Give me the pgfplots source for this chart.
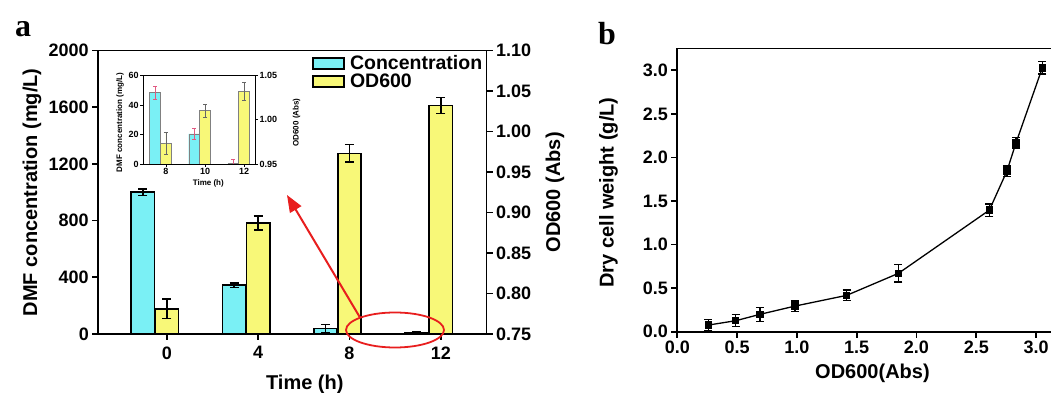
\documentclass[border=0pt]{standalone}
\usepackage{pgfplots}
\pgfplotsset{compat=1.18}
\usepackage{fontspec}
\setmainfont{Liberation Sans}
\newfontfamily\panelfont{Liberation Serif}
\usetikzlibrary{arrows.meta}
\definecolor{cy}{RGB}{122,240,245}
\definecolor{ye}{RGB}{248,248,120}
\definecolor{rd}{RGB}{232,30,30}
\definecolor{pk}{RGB}{225,90,130}

\pgfplotsset{
  base/.style={
    scale only axis, separate axis lines,
    /pgf/number format/assume math mode=true,
    tick align=outside, major tick length=6pt,
    axis line style={line width=1.8pt},
    tick style={line width=1.8pt, black},
    tick label style={font=\fontsize{18}{18}\selectfont\bfseries},
    label style={font=\fontsize{20}{20}\selectfont\bfseries},
    /pgf/number format/1000 sep={},
  },
  insetbase/.style={
    scale only axis, separate axis lines,
    /pgf/number format/assume math mode=true,
    tick align=outside, major tick length=3pt,
    axis line style={line width=0.8pt},
    tick style={line width=0.8pt, black},
    tick label style={font=\fontsize{9}{9}\selectfont\bfseries, inner sep=1.5pt},
    label style={font=\fontsize{8}{8}\selectfont\bfseries},
    /pgf/number format/1000 sep={},
  },
  bigerr/.style={error bars/.cd, y dir=both, y explicit,
    error bar style={draw=black, line width=1.4pt},
    error mark options={rotate=90, mark size=4.5pt, line width=1.4pt, draw=black}},
  smallerr/.style={error bars/.cd, y dir=both, y explicit,
    error bar style={draw=#1, line width=0.6pt},
    error mark options={rotate=90, mark size=2pt, line width=0.6pt, draw=#1}},
}

\begin{document}
\begin{tikzpicture}
\path[use as bounding box] (0pt,0pt) rectangle (1051pt,393pt);
\clip (0pt,0pt) rectangle (1051pt,393pt);

% ---------- panel a : concentration (left axis)
\begin{axis}[base,
  at={(98.3pt,59pt)}, anchor=south west,
  width=388.2pt, height=283.5pt,
  xmin=-3, xmax=14, ymin=0, ymax=2000,
  xtick={0,4,8,12}, ytick={0,400,800,1200,1600,2000},
  xtick pos=left, ytick pos=left,
  xticklabel style={yshift=-3pt},
  scaled y ticks=false,
  xlabel={Time (h)}, ylabel={DMF concentration (mg/L)},
  xlabel style={at={(axis description cs:0.532,-0.176)}, anchor=center},
  ylabel style={at={(axis description cs:-0.171,0.5)}, anchor=center},
]
\addplot[ybar, bar width=23.5pt, bar shift=-24pt, fill=cy, draw=black, line width=1.6pt]
  coordinates {(0,1000) (4,345) (8,40) (12,8)};
\addplot[draw=none, mark=none, forget plot, xshift=-24pt, bigerr]
  coordinates {(0,1000) +- (0,22) (4,345) +- (0,16) (8,40) +- (0,28) (12,8) +- (0,5)};
\end{axis}

% ---------- panel a : OD600 (right axis)
\begin{axis}[base,
  at={(98.3pt,59pt)}, anchor=south west,
  width=388.2pt, height=283.5pt,
  xmin=-3, xmax=14, ymin=0.75, ymax=1.10,
  axis x line=none, axis y line*=right,
  ytick={0.75,0.80,0.85,0.90,0.95,1.00,1.05,1.10},
  yticklabel style={/pgf/number format/.cd, fixed, fixed zerofill, precision=2},
  ylabel={OD600 (Abs)},
  ylabel style={at={(axis description cs:1.1765,0.5)}, anchor=center, rotate=0},
  legend style={at={(axis description cs:0.5505,0.984)}, anchor=north west,
    draw=none, fill=none, inner sep=0pt, column sep=5pt, row sep=1.5pt,
    font=\fontsize{19.5}{19.5}\selectfont\bfseries,
    nodes={inner sep=0.5pt}},
  legend cell align=left,
]
\addlegendimage{legend image code/.code={\draw[fill=cy,draw=black,line width=1.3pt] (0pt,-5.5pt) rectangle (31pt,5.5pt);}}
\addlegendentry{Concentration}
\addplot[ybar, bar width=23.5pt, bar shift=0pt, fill=ye, draw=black, line width=1.6pt,
  legend image code/.code={\draw[fill=ye,draw=black,line width=1.3pt] (0pt,-5.5pt) rectangle (31pt,5.5pt);},
  bigerr]
  coordinates {(0,0.781) +- (0,0.0120) (4,0.887) +- (0,0.0085) (8,0.973) +- (0,0.0107) (12,1.032) +- (0,0.0100)};
\addlegendentry{OD600}
\end{axis}

% ---------- inset : left axis
\begin{axis}[insetbase,
  at={(143.3pt,229pt)}, anchor=south west,
  width=111.7pt, height=88.3pt,
  xmin=6.84, xmax=12.56, ymin=0, ymax=60,
  xtick={8,10,12}, ytick={0,20,40,60},
  xtick pos=left, ytick pos=left,
  xlabel={Time (h)}, ylabel={DMF concentration (mg/L)},
  xlabel style={at={(axis description cs:0.582,-0.219)}, anchor=center},
  ylabel style={at={(axis description cs:-0.209,0.47)}, anchor=center},
]
\addplot[ybar, bar width=11pt, bar shift=-10.8pt, fill=cy, draw=gray, line width=0.4pt]
  coordinates {(8,48.5) (10,20.4) (12,0.5)};
\addplot[draw=none, mark=none, forget plot, xshift=-10.8pt, smallerr=pk]
  coordinates {(8,48.5) +- (0,4.3) (10,20.4) +- (0,3.6) (12,0.5) +- (0,2.5)};
\end{axis}

% ---------- inset : right axis
\begin{axis}[insetbase,
  at={(143.3pt,229pt)}, anchor=south west,
  width=111.7pt, height=88.3pt,
  xmin=6.84, xmax=12.56, ymin=0.95, ymax=1.05,
  axis x line=none, axis y line*=right,
  ytick={0.95,1.00,1.05},
  yticklabel style={/pgf/number format/.cd, fixed, fixed zerofill, precision=2},
  ylabel={OD600 (Abs)},
  ylabel style={at={(axis description cs:1.373,0.47)}, anchor=center, rotate=0},
]
\addplot[ybar, bar width=11pt, bar shift=0pt, fill=ye, draw=gray, line width=0.4pt,
  smallerr=gray!80!black]
  coordinates {(8,0.9734) +- (0,0.0125) (10,1.0104) +- (0,0.0075) (12,1.0319) +- (0,0.0102)};
\end{axis}

% ---------- annotations (red arrow and ellipse)
\draw[rd, line width=1.8pt] (395pt,63pt) ellipse [x radius=49pt, y radius=17.5pt];
\draw[rd, line width=2pt, -{Triangle[length=17pt,width=13pt]}] (360pt,75.5pt) -- (287pt,198pt);

% ---------- panel b
\begin{axis}[base,
  at={(677.3pt,61.3pt)}, anchor=south west,
  width=382.7pt, height=283.2pt,
  xmin=0, xmax=3.2, ymin=0, ymax=3.25,
  xtick={0,0.5,1.0,1.5,2.0,2.5,3.0}, ytick={0,0.5,1.0,1.5,2.0,2.5,3.0},
  xtick pos=left, ytick pos=left,
  xticklabel style={/pgf/number format/.cd, fixed, fixed zerofill, precision=1},
  yticklabel style={/pgf/number format/.cd, fixed, fixed zerofill, precision=1},
  xlabel={OD600(Abs)}, ylabel={Dry cell weight (g/L)},
  xlabel style={at={(axis description cs:0.51,-0.146)}, anchor=center},
  ylabel style={at={(axis description cs:-0.18,0.4915)}, anchor=center},
]
\addplot[black, line width=1.3pt, mark=square*, mark size=3.1pt, mark options={solid},
  error bars/.cd, y dir=both, y explicit,
  error bar style={line width=1.3pt, black},
  error mark options={rotate=90, mark size=4pt, line width=1.3pt, black}]
  coordinates {
  (0.259,0.076) +- (0,0.06)
  (0.488,0.126) +- (0,0.07)
  (0.691,0.199) +- (0,0.08)
  (0.984,0.294) +- (0,0.06)
  (1.416,0.417) +- (0,0.06)
  (1.848,0.669) +- (0,0.10)
  (2.609,1.395) +- (0,0.07)
  (2.756,1.843) +- (0,0.06)
  (2.832,2.167) +- (0,0.06)
  (3.052,3.028) +- (0,0.07)
  };
\end{axis}

% ---------- panel letters
\node[anchor=base west, inner sep=0pt, font=\panelfont\fontsize{32}{32}\selectfont\bfseries] at (15pt,356pt) {a};
\node[anchor=base west, inner sep=0pt, font=\panelfont\fontsize{32}{32}\selectfont\bfseries] at (598pt,348pt) {b};
\end{tikzpicture}
\end{document}
